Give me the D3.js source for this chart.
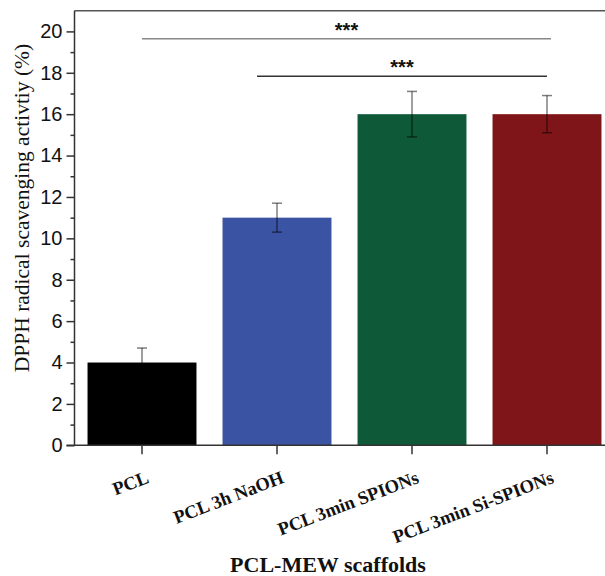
<!DOCTYPE html>
<html><head><meta charset="utf-8">
<script src="https://cdn.jsdelivr.net/npm/d3@7"></script>
<style>body{margin:0;background:#fff}svg{display:block}</style>
</head><body>
<script>
const categories = ["PCL", "PCL 3h NaOH", "PCL 3min SPIONs", "PCL 3min Si-SPIONs"];
const values = [4.0, 11.0, 16.0, 16.0];
const errors = [0.7, 0.7, 1.1, 0.9];
const colors = ["#000000", "#3a53a3", "#0e5a38", "#7f1518"];
const yTicks = [0, 2, 4, 6, 8, 10, 12, 14, 16, 18, 20];
const yMinorTicks = [1, 3, 5, 7, 9, 11, 13, 15, 17, 19];
const sigFrom = ["PCL", "PCL 3h NaOH"];
const sigTo = ["PCL 3min Si-SPIONs", "PCL 3min Si-SPIONs"];
const sigLevel = [19.64, 17.83];
const sigLabel = ["***", "***"];
const xTitle = "PCL-MEW scaffolds";
const yTitle = "DPPH radical scavenging activtiy (%)";

const W = 605, H = 576;
const svg = d3.select("body").append("svg").attr("width", W).attr("height", H);
const mLeft = 74.5, mRight = 614.5, mTop = 10.7, mBottom = 445.3;

const x = d3.scaleBand().domain(categories).range([mLeft, mRight]).paddingInner(0.193).paddingOuter(0.0965);
const y = d3.scaleLinear().domain([0, 21]).range([mBottom, mTop]);

// bars
svg.selectAll("rect.bar").data(categories).join("rect")
  .attr("class", "bar")
  .attr("x", d => x(d)).attr("width", x.bandwidth())
  .attr("y", (d, i) => y(values[i])).attr("height", (d, i) => y(0) - y(values[i]))
  .attr("fill", (d, i) => colors[i]);

// error bars
const eb = svg.append("g").attr("stroke", "#000").attr("stroke-opacity", 0.5).attr("stroke-width", 1.5);
categories.forEach((c, i) => {
  const cx = x(c) + x.bandwidth() / 2;
  const y1 = y(values[i] + errors[i]), y0 = y(values[i] - errors[i]);
  eb.append("line").attr("x1", cx).attr("x2", cx).attr("y1", y1).attr("y2", y0);
  eb.append("line").attr("x1", cx - 5).attr("x2", cx + 5).attr("y1", y1).attr("y2", y1);
  eb.append("line").attr("x1", cx - 5).attr("x2", cx + 5).attr("y1", y0).attr("y2", y0);
});

// top frame line
svg.append("line").attr("x1", mLeft).attr("x2", W).attr("y1", y(21)).attr("y2", y(21))
  .attr("stroke", "#555").attr("stroke-width", 1.5);

// y axis
const yAxis = svg.append("g").attr("transform", `translate(${mLeft},0)`)
  .call(d3.axisLeft(y).tickValues(yTicks).tickSize(8).tickPadding(4).tickFormat(d3.format("d")));
yAxis.select(".domain").attr("d", `M0,${y(21)}V${y(0)}`).attr("stroke", "#333").attr("stroke-width", 1.5);
yAxis.selectAll(".tick line").attr("stroke", "#333").attr("stroke-width", 1.5);
yAxis.selectAll(".tick text").attr("font-family", "Liberation Sans, Arial, sans-serif").attr("font-size", 20).attr("fill", "#111");
const yMinor = svg.append("g").attr("transform", `translate(${mLeft},0)`)
  .call(d3.axisLeft(y).tickValues(yMinorTicks).tickSize(4).tickFormat(""));
yMinor.select(".domain").remove();
yMinor.selectAll(".tick line").attr("stroke", "#333").attr("stroke-width", 1.5);

// x axis
const xAxis = svg.append("g").attr("transform", `translate(0,${mBottom})`)
  .call(d3.axisBottom(x).tickSize(9).tickFormat(""));
xAxis.select(".domain").attr("d", `M${mLeft - 8},0H${W}`).attr("stroke", "#333").attr("stroke-width", 1.5);
xAxis.selectAll(".tick line").attr("stroke", "#333").attr("stroke-width", 1.5);

// rotated category labels
svg.append("g").selectAll("text").data(categories).join("text")
  .attr("transform", d => `translate(${x(d) + x.bandwidth() / 2 + 8},${mBottom + 37}) rotate(-21)`)
  .attr("text-anchor", "end")
  .attr("font-family", "Liberation Serif, Times New Roman, serif")
  .attr("font-weight", "bold").attr("font-size", 18.5).attr("fill", "#111")
  .text(d => d);

// axis titles
svg.append("text").attr("x", 328).attr("y", 572).attr("text-anchor", "middle")
  .attr("font-family", "Liberation Serif, Times New Roman, serif").attr("font-weight", "bold")
  .attr("font-size", 22).attr("fill", "#111").text(xTitle);
svg.append("text").attr("transform", `translate(29,208) rotate(-90)`).attr("text-anchor", "middle")
  .attr("font-family", "Liberation Serif, Times New Roman, serif")
  .attr("font-size", 21.5).attr("fill", "#111").text(yTitle);

// significance brackets
const sigStart = [0, -20], sigEnd = [4, 0], sigStroke = ["#888", "#333"];
sigLevel.forEach((lv, i) => {
  const xa = x(sigFrom[i]) + x.bandwidth() / 2 + sigStart[i];
  const xb = x(sigTo[i]) + x.bandwidth() / 2 + sigEnd[i];
  svg.append("line").attr("x1", xa).attr("x2", xb).attr("y1", y(lv)).attr("y2", y(lv))
    .attr("stroke", sigStroke[i]).attr("stroke-width", 1.5);
  svg.append("text").attr("x", (xa + xb) / 2).attr("y", y(lv) - 2).attr("text-anchor", "middle")
    .attr("font-family", "Liberation Sans, Arial, sans-serif").attr("font-weight", "bold")
    .attr("font-size", 20).attr("fill", "#111").text(sigLabel[i]);
});
</script>
</body></html>
